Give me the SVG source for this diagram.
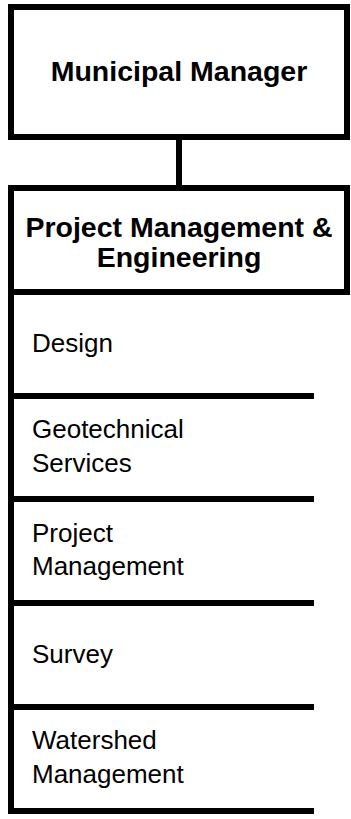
<svg xmlns="http://www.w3.org/2000/svg" width="351" height="819" viewBox="0 0 351 819">
<style>
.box{fill:#fff;stroke:#000;stroke-width:6}
.ln{stroke:#000;stroke-width:6;fill:none}
.b{font-family:"Liberation Sans",Arial,sans-serif;font-weight:bold;font-size:28.5px;fill:#000;text-anchor:middle}
.r{font-family:"Liberation Sans",Arial,sans-serif;font-size:26px;fill:#000}
</style>
<rect width="351" height="819" fill="#fff"/>
<g id="connectors">
<line class="ln" x1="179" y1="140" x2="179" y2="185"/>
<line class="ln" x1="11" y1="292" x2="11" y2="814"/>
</g>
<g id="municipal-manager">
<rect class="box" x="11" y="7" width="336" height="130"/>
<text class="b" x="179" y="81">Municipal Manager</text>
</g>
<g id="pme">
<rect class="box" x="11" y="188" width="336" height="104"/>
<text class="b" x="179" y="237">Project Management &amp;</text>
<text class="b" x="179" y="267">Engineering</text>
</g>
<g id="design">
<line class="ln" x1="8" y1="396" x2="314" y2="396"/>
<text class="r" x="32" y="352">Design</text>
</g>
<g id="geotechnical">
<line class="ln" x1="8" y1="499" x2="314" y2="499"/>
<text class="r" x="32" y="438">Geotechnical</text>
<text class="r" x="32" y="472">Services</text>
</g>
<g id="project-management">
<line class="ln" x1="8" y1="603" x2="314" y2="603"/>
<text class="r" x="32" y="542">Project</text>
<text class="r" x="32" y="575">Management</text>
</g>
<g id="survey">
<line class="ln" x1="8" y1="707" x2="314" y2="707"/>
<text class="r" x="32" y="663">Survey</text>
</g>
<g id="watershed">
<line class="ln" x1="8" y1="811" x2="314" y2="811"/>
<text class="r" x="32" y="749">Watershed</text>
<text class="r" x="32" y="783">Management</text>
</g>
</svg>
